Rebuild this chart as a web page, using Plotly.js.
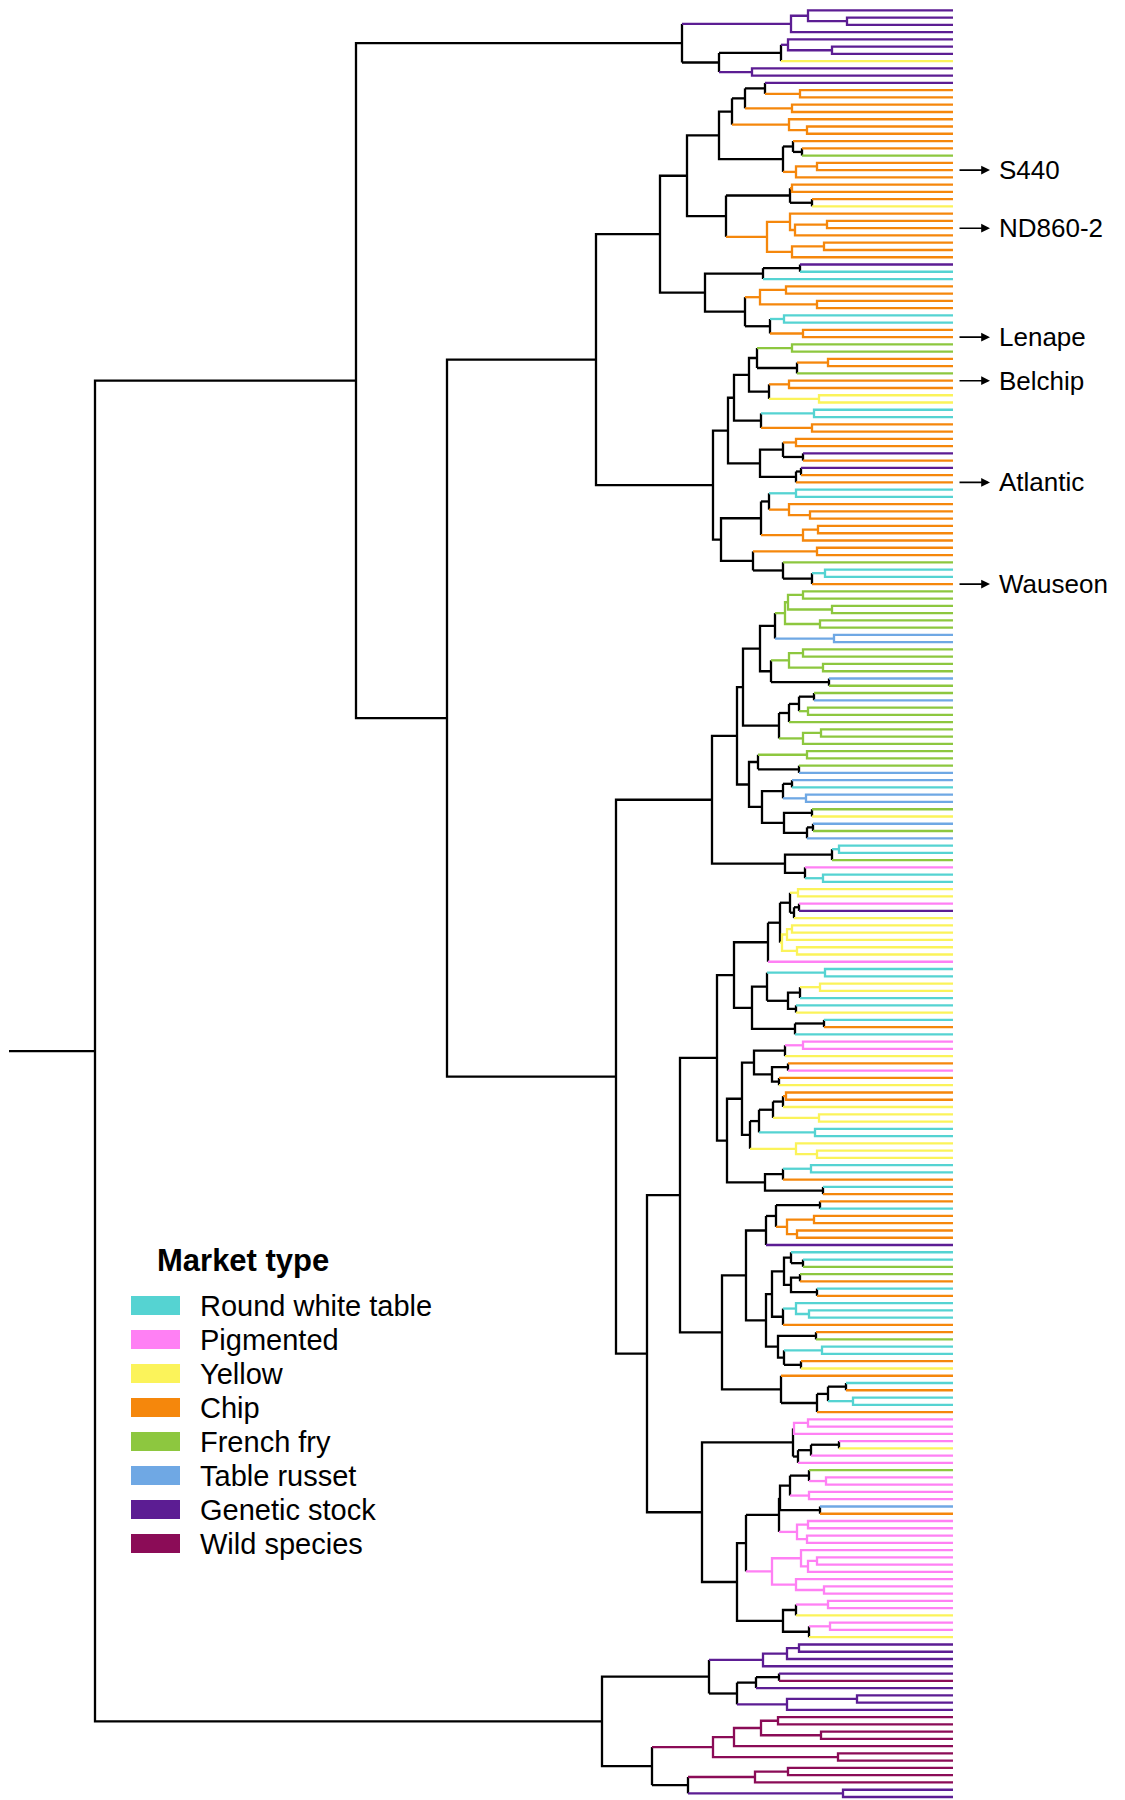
<!DOCTYPE html>
<html><head><meta charset="utf-8">
<script src="https://cdn.plot.ly/plotly-3.0.1.min.js"></script>
<style>html,body{margin:0;padding:0;background:#fff}</style>
</head><body><div id="chart" style="width:1125px;height:1800px"></div>
<script>
// ---------------- data ----------------
const groupCodes  = ['c','p','y','o','g','b','v','m'];
const groupNames  = ['Round white table','Pigmented','Yellow','Chip','French fry','Table russet','Genetic stock','Wild species'];
const groupColors = ['#55D3D2','#FF80F4','#FBF35A','#F5870C','#8DC73F','#6FA8E4','#5C1D93','#8B0C57'];

// sub-trees: leaves are market-type codes (top-to-bottom order), internal nodes "(a,b)height"
const clusterTop   = "(((v,(v,v)106)145,v)162,(((v,(v,v)121)165,y)172,(v,v)201)234)271";
const clusterChipA = "((((v,(o,o)153)188,(o,o)161)208,(o,(o,o)146)164)221,((o,(o,g)151)160,((o,o)136,o)157)170)234";
const clusterChipB = "(((o,o)161,(o,y)141)163,((o,((o,o)126,o)158)163,((o,o)129,o)161)186)227";
const clusterChipC = "(((v,c)153,c)190,(((o,o)167,(o,o)136)193,((c,c)169,(o,o)150)183)208)248";
const clusterChipD = "(((((g,g)161,((o,o)125,g)156)196,((o,o)164,(y,y)134)184)204,((c,c)139,(o,o)141)192)219,(((o,o)157,(v,o)150)170,((v,o)152,o)157)193)225";
const clusterChipE = "((((c,c)157,(o,(o,o)143)164)184,((o,o)135,o)150)192,((o,o)136,(g,((c,c)128,o)141)170)200)232";
const clusterFry   = "((((((((g,g)150,(g,g)121)165,(g,g)133)168,(b,b)119)178,(((g,g)150,(g,g)130)164,(b,g)124)182)193,((((g,b)139,(g,g)145)154,g)164,((g,g)132,g)150)174)210,(((g,g)146,(g,b)154)195,(((b,c)161,(b,b)147)170,((g,y)141,((b,g)140,b)146)169)191)204)216,(((c,c)114,g)121,(p,(c,c)130)148)168)241";
const clusterYellowA = "(((((y,y)155,((p,v)154,y)159)163,(((y,y)161,y)166,(y,y)156)171)173,p)185,(((c,c)128,(((y,y)133,c)153,(c,y)157)165)186,((c,o)129,c)158)201)219";
const clusterYellowB = "(((((p,p)150,y)168,((o,p)165,(o,y)174)181)199,(((((o,o)167,y)170,(y,y)134)180,(c,c)138)194,(y,(y,y)136)157)203)211,(((c,c)142,o)170,(c,o)130)188)226";
const clusterRound = "(((((o,c)133,((o,o)139,(o,o)156)166)177,v)187,((((c,(c,g)150)162,((g,o)153,(c,o)136)162)169,((c,(c,c)144)157,o)170)181,((o,g)137,((c,c)131,(o,y)152)169)175)187)207,(o,(((c,o)107,(c,c)100)125,o)136)172)231";
const clusterPig   = "((((p,p)145,p)159,(((p,y)114,p)142,p)155)160,((((((g,(p,p)127)144,(p,p)144)163,(b,o)133)173,((p,p)145,(p,p)146)156)174,((p,((p,p)136,p)145)152,(p,(p,p)129)157)181)207,(((p,p)125,y)157,((p,p)123,y)144)170)216)251";
const clusterWild  = "(((((v,v)154,v)166,v)190,(((v,m)174,v)197,((v,v)96,v)166)216)244,(((((m,m)175,(m,m)132)192,m)219,(m,m)115)240,(((m,m)165,m)198,(v,v)110)265)301)351";

// highlighted cultivars: [name, leaf index]
const cultivarNames = ['S440','ND860-2','Lenape','Belchip','Atlantic','Wauseon'];
const cultivarLeaf  = [22, 30, 45, 51, 65, 79];
const legendTitle = 'Market type';

// backbone joining the clusters
const treeString =
  `((${clusterTop},((((${clusterChipA},${clusterChipB})266,${clusterChipC})293,(${clusterChipD},${clusterChipE})240)357,` +
  `(${clusterFry},(((${clusterYellowA},${clusterYellowB})236,${clusterRound})273,${clusterPig})306)337)506)597,${clusterWild})858`;

// ---------------- build tree ----------------
function parseTree(str){
  str = str.replace(/\s+/g,'');
  let pos = 0, leafIdx = 0;
  function node(){
    if (str[pos] === '('){
      pos++;
      const a = node(); pos++;
      const b = node(); pos++;
      let num = '';
      while (pos < str.length && /[0-9.]/.test(str[pos])) num += str[pos++];
      return {children:[a,b], h:parseFloat(num)};
    }
    const g = str[pos++];
    return {leaf:true, g:g, h:0, y:leafIdx++};
  }
  const root = node();
  return {root, nLeaves: leafIdx};
}
const {root, nLeaves} = parseTree(treeString);

function layout(n){
  if (n.leaf) return;
  n.children.forEach(layout);
  const [a,b] = n.children;
  n.y = (a.y + b.y)/2;
  n.g = (a.g && a.g === b.g) ? a.g : null;
}
layout(root);

const colorOf = g => g ? groupColors[groupCodes.indexOf(g)] : '#000000';
const segs = {};
function add(col, xs, ys){
  if (!segs[col]) segs[col] = {x:[], y:[]};
  segs[col].x.push(...xs, null);
  segs[col].y.push(...ys, null);
}
function draw(n){
  if (n.leaf) return;
  const [a,b] = n.children;
  const cn = colorOf(n.g), ca = colorOf(a.g), cb = colorOf(b.g);
  if (cn === ca && cn === cb){
    add(cn, [a.h, n.h, n.h, b.h], [a.y, a.y, b.y, b.y]);
  } else {
    add(cn, [n.h, n.h], [a.y, b.y]);
    add(ca, [n.h, a.h], [a.y, a.y]);
    add(cb, [n.h, b.h], [b.y, b.y]);
  }
  draw(a); draw(b);
}
draw(root);
// root stem
add('#000000', [root.h + 86, root.h], [root.y, root.y]);

const traces = Object.keys(segs).map(col => ({
  type:'scatter', mode:'lines', x:segs[col].x, y:segs[col].y,
  line:{color:col, width:2.3}, hoverinfo:'skip', showlegend:false,
  connectgaps:false
}));

// ---------------- decorations ----------------
const W = 1125, H = 1800;
const px = v => v / W, py = v => 1 - v / H;
const shapes = [], annotations = [];
const FONT = 'Liberation Sans, Arial, sans-serif';

annotations.push({xref:'paper', yref:'paper', x:px(155), y:py(1260), xanchor:'left', yanchor:'middle',
  text:'<b>'+legendTitle+'</b>', showarrow:false, font:{size:31, color:'#000', family:FONT}});
groupNames.forEach((name,k) => {
  const cy = 1305.5 + k*34.0;
  shapes.push({type:'rect', xref:'paper', yref:'paper', x0:px(131), x1:px(180), y0:py(cy-9.5), y1:py(cy+9.5),
    fillcolor:groupColors[k], line:{width:0}});
  annotations.push({xref:'paper', yref:'paper', x:px(198), y:py(cy), xanchor:'left', yanchor:'middle',
    text:name, showarrow:false, font:{size:29, color:'#000', family:FONT}});
});

cultivarNames.forEach((name,k) => {
  const leaf = cultivarLeaf[k];
  annotations.push({xref:'x', yref:'y', x:-37, y:leaf, text:'', showarrow:true,
    ax:-32, ay:0, arrowhead:2, arrowsize:1.1, arrowwidth:1.6, arrowcolor:'#000', standoff:0, startstandoff:0});
  annotations.push({xref:'x', yref:'y', x:-44, y:leaf, text:name, showarrow:false, xanchor:'left', yanchor:'middle',
    font:{size:26, color:'#000', family:FONT}});
});

const sp = 7.263;
const y0 = -10.3/sp, y1 = y0 + H/sp;

const layoutObj = {
  width:W, height:H, margin:{l:0,r:0,t:0,b:0}, paper_bgcolor:'#fff', plot_bgcolor:'#fff',
  xaxis:{range:[953, 953-W], visible:false, fixedrange:true},
  yaxis:{range:[y1, y0], visible:false, fixedrange:true},
  shapes, annotations, showlegend:false
};
Plotly.newPlot('chart', traces, layoutObj, {displayModeBar:false, staticPlot:true});
</script></body></html>
